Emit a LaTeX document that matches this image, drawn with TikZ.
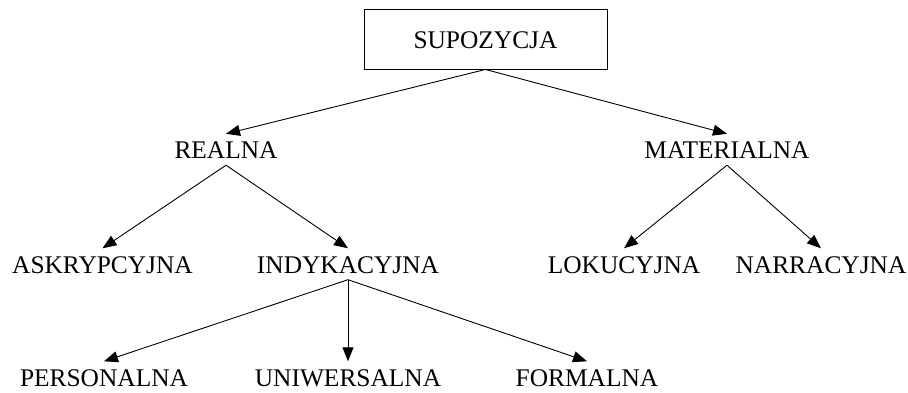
\documentclass[tikz,border=0pt]{standalone}
\usepackage{fontspec}
\setmainfont{Liberation Serif}
\usetikzlibrary{arrows.meta}
\begin{document}
\begin{tikzpicture}[x=1pt,y=-1pt,
  lbl/.style={inner sep=0pt, minimum height=31pt, text height=18pt, text depth=0pt,
    font=\fontsize{25.4pt}{28pt}\selectfont},
  rootbox/.style={draw, line width=0.9pt, inner sep=0pt, minimum width=243pt, minimum height=60pt,
    text height=18pt, text depth=0pt, font=\fontsize{25.4pt}{28pt}\selectfont},
  edge/.style={line width=0.9pt, -{Triangle[length=14pt,width=11pt]}}]
\useasboundingbox (0,0) rectangle (908,392);
\node[rootbox] (sup) at (485.5,39) {SUPOZYCJA};
\node[lbl] (real) at (226,149.5) {REALNA};
\node[lbl] (mat) at (727,149.5) {MATERIALNA};
\node[lbl] (ask) at (102.5,264) {ASKRYPCYJNA};
\node[lbl] (ind) at (348,264) {INDYKACYJNA};
\node[lbl] (lok) at (624,264) {LOKUCYJNA};
\node[lbl] (nar) at (821,264) {NARRACYJNA};
\node[lbl] (per) at (104,377) {PERSONALNA};
\node[lbl] (uni) at (348,377) {UNIWERSALNA};
\node[lbl] (for) at (587,377) {FORMALNA};
\draw[edge] (sup.south) -- (real.north);
\draw[edge] (sup.south) -- (mat.north);
\draw[edge] (real.south) -- (ask.north);
\draw[edge] (real.south) -- (ind.north);
\draw[edge] (mat.south) -- (lok.north);
\draw[edge] (mat.south) -- (nar.north);
\draw[edge] (ind.south) -- (per.north);
\draw[edge] (ind.south) -- (uni.north);
\draw[edge] (ind.south) -- (for.north);
\end{tikzpicture}
\end{document}
